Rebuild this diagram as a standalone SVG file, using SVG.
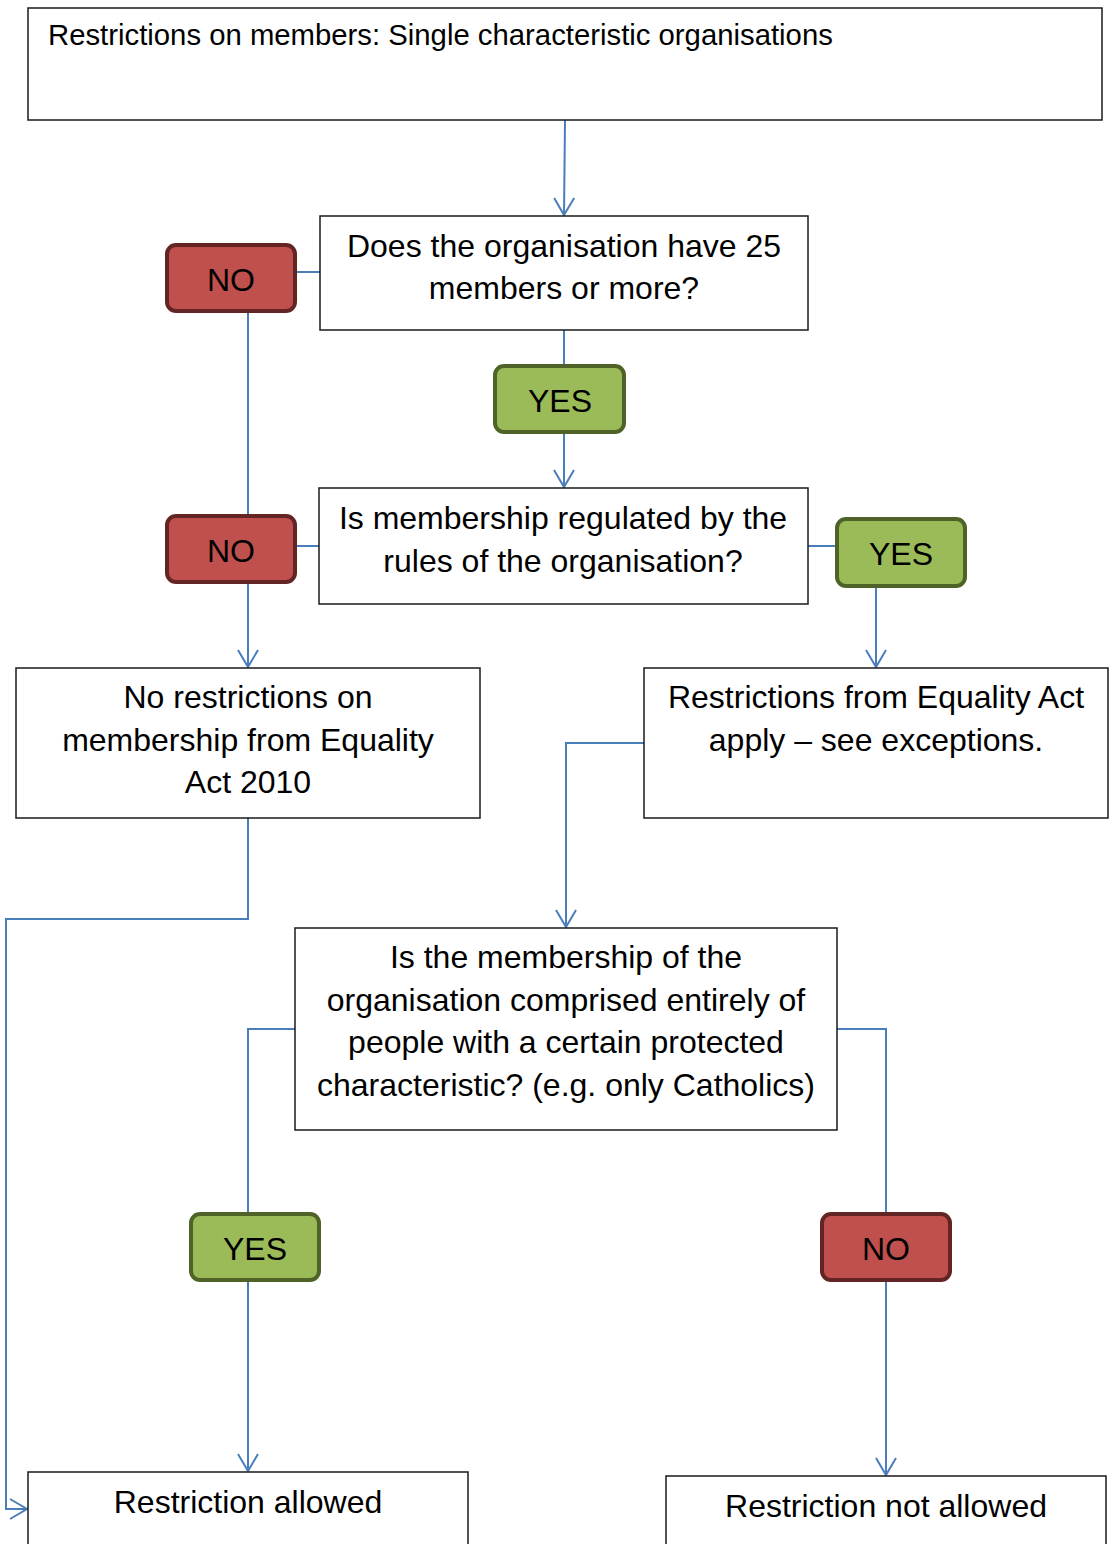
<svg xmlns="http://www.w3.org/2000/svg" width="1112" height="1544" viewBox="0 0 1112 1544">
<defs>
<marker id="arr" markerUnits="userSpaceOnUse" markerWidth="40" markerHeight="40" refX="0" refY="0" viewBox="-20 -20 40 40" orient="auto" overflow="visible">
<path d="M-17,-10 L0,0 L-17,10" fill="none" stroke="#4A7EBB" stroke-width="2"/>
</marker>
</defs>
<style>
.box{fill:#fff;stroke:#1a1a1a;stroke-width:1.5}
.t{font-family:"Liberation Sans",Arial,sans-serif;font-size:32px;fill:#000;text-anchor:middle}
.no rect{fill:#C0504D;stroke:#632523;stroke-width:4}
.yes rect{fill:#9BBB59;stroke:#4F6228;stroke-width:4}
.c{fill:none;stroke:#4A7EBB;stroke-width:2}
.a{marker-end:url(#arr)}
</style>
<rect width="1112" height="1544" fill="#fff"/>
<g id="connectors">
<path class="c a" d="M565,120 L564,215"/>
<path class="c" d="M296,272 L320,272"/>
<path class="c" d="M248,313 L248,516"/>
<path class="c" d="M564,330 L564,365"/>
<path class="c a" d="M564,433 L564,487"/>
<path class="c" d="M296,546 L319,546"/>
<path class="c" d="M808,546 L836,546"/>
<path class="c a" d="M248,583 L248,667"/>
<path class="c a" d="M876,588 L876,667"/>
<path class="c a" d="M644,743 L566,743 L566,927"/>
<path class="c a" d="M248,818 L248,919 L6,919 L6,1509 L27,1509"/>
<path class="c" d="M295,1029 L248,1029 L248,1213"/>
<path class="c" d="M837,1029 L886,1029 L886,1213"/>
<path class="c a" d="M248,1281 L248,1471"/>
<path class="c a" d="M886,1281 L886,1475"/>
</g>
<g id="title">
<rect class="box" x="28" y="8" width="1074" height="112"/>
<text x="48" y="45" style="font-family:'Liberation Sans',Arial,sans-serif;font-size:29.3px;fill:#000">Restrictions on members: Single characteristic organisations</text>
</g>
<g id="q1">
<rect class="box" x="320" y="216" width="488" height="114"/>
<text class="t" x="564" y="257">Does the organisation have 25</text>
<text class="t" x="564" y="299">members or more?</text>
</g>
<g id="no1" class="no">
<rect x="167" y="245" width="128" height="66" rx="9"/>
<text class="t" x="231" y="291">NO</text>
</g>
<g id="yes1" class="yes">
<rect x="495" y="366" width="129" height="66" rx="9"/>
<text class="t" x="560" y="412">YES</text>
</g>
<g id="q2">
<rect class="box" x="319" y="488" width="489" height="116"/>
<text class="t" x="563" y="529">Is membership regulated by the</text>
<text class="t" x="563" y="572">rules of the organisation?</text>
</g>
<g id="no2" class="no">
<rect x="167" y="516" width="128" height="66" rx="9"/>
<text class="t" x="231" y="562">NO</text>
</g>
<g id="yes2" class="yes">
<rect x="837" y="519" width="128" height="67" rx="9"/>
<text class="t" x="901" y="565">YES</text>
</g>
<g id="norestrict">
<rect class="box" x="16" y="668" width="464" height="150"/>
<text class="t" x="248" y="708">No restrictions on</text>
<text class="t" x="248" y="751">membership from Equality</text>
<text class="t" x="248" y="793">Act 2010</text>
</g>
<g id="restrictapply">
<rect class="box" x="644" y="668" width="464" height="150"/>
<text class="t" x="876" y="708">Restrictions from Equality Act</text>
<text class="t" x="876" y="751">apply – see exceptions.</text>
</g>
<g id="q3">
<rect class="box" x="295" y="928" width="542" height="202"/>
<text class="t" x="566" y="968">Is the membership of the</text>
<text class="t" x="566" y="1011">organisation comprised entirely of</text>
<text class="t" x="566" y="1053">people with a certain protected</text>
<text class="t" x="566" y="1096">characteristic? (e.g. only Catholics)</text>
</g>
<g id="yes3" class="yes">
<rect x="191" y="1214" width="128" height="66" rx="9"/>
<text class="t" x="255" y="1260">YES</text>
</g>
<g id="no3" class="no">
<rect x="822" y="1214" width="128" height="66" rx="9"/>
<text class="t" x="886" y="1260">NO</text>
</g>
<g id="allowed">
<rect class="box" x="28" y="1472" width="440" height="90"/>
<text class="t" x="248" y="1513">Restriction allowed</text>
</g>
<g id="notallowed">
<rect class="box" x="666" y="1476" width="440" height="90"/>
<text class="t" x="886" y="1517">Restriction not allowed</text>
</g>
</svg>
